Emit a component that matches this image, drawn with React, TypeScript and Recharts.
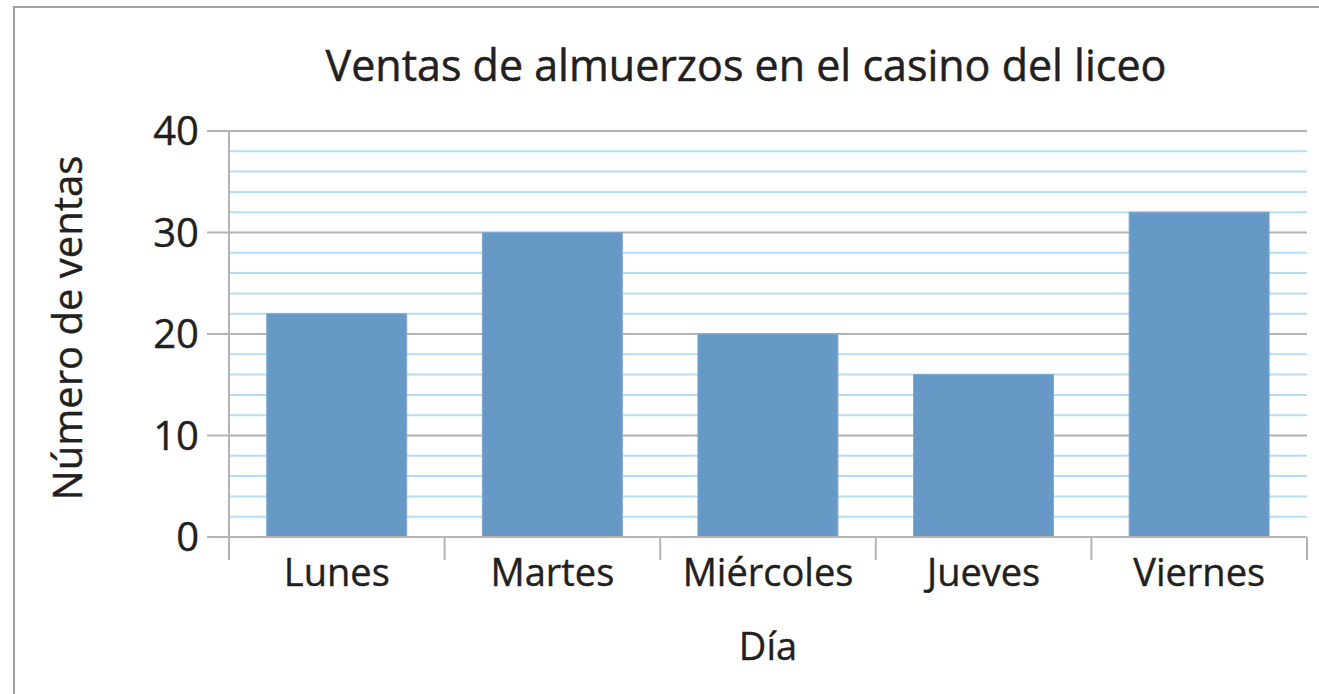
import { BarChart, Bar, XAxis, YAxis, CartesianGrid } from "recharts";

// Ventas por día
const dias = ["Lunes", "Martes", "Miércoles", "Jueves", "Viernes"];
const ventas = [22, 30, 20, 16, 32];
const yTicks = [0, 10, 20, 30, 40];
// líneas celestes cada 2 ventas (en dos grupos para que no se descarten)
const yMinorA = [2, 6, 12, 16, 22, 26, 32, 36];
const yMinorB = [4, 8, 14, 18, 24, 28, 34, 38];

const titulo = "Ventas de almuerzos en el casino del liceo";
const ejeY = "Número de ventas";
const ejeX = "Día";

const FONT = "'Open Sans', 'Noto Sans', sans-serif";
const TEXT = "#231f20";
const GRAY = "#b4b4b4";
const BLUE_LINE = "#b3def3";
const BAR = "#6799c7";

const TICK_MARGIN = 22;
const EDGE_TICK = 23;

const data = dias.map((dia, i) => ({ dia, ventas: ventas[i] }));

// etiqueta del día + marcas en los bordes de cada categoría
const DayTick = (props: any) => {
  const { x, y, payload, index, visibleTicksCount } = props;
  const half = payload?.offset ?? 0;
  const top = y - TICK_MARGIN;
  const last = index === visibleTicksCount - 1;
  return (
    <g>
      <line x1={x - half} x2={x - half} y1={top} y2={top + EDGE_TICK} stroke={GRAY} strokeWidth={2} />
      {last && (
        <line x1={x + half} x2={x + half} y1={top} y2={top + EDGE_TICK} stroke={GRAY} strokeWidth={2} />
      )}
      <text
        x={x}
        y={y}
        dy="0.71em"
        textAnchor="middle"
        fill={TEXT}
        stroke={TEXT}
        strokeWidth={0.4}
        fontSize={38}
        fontFamily={FONT}
      >
        {payload.value}
      </text>
    </g>
  );
};

export default function App() {
  return (
    <div
      style={{
        position: "fixed",
        left: 0,
        top: 0,
        width: 1319,
        height: 694,
        background: "#fff",
        fontFamily: FONT,
        overflow: "hidden",
      }}
    >
      {/* marco */}
      <div
        style={{
          position: "absolute",
          left: 13,
          top: 6,
          width: 1400,
          height: 800,
          borderLeft: "2px solid #a0a0a0",
          borderTop: "2px solid #a0a0a0",
        }}
      />
      <div
        style={{
          position: "absolute",
          left: 0,
          top: 35,
          width: 1492,
          textAlign: "center",
          fontSize: 43,
          color: TEXT,
          lineHeight: "60px",
          WebkitTextStroke: "0.5px " + TEXT,
        }}
      >
        {titulo}
      </div>

      <BarChart
        width={1319}
        height={694}
        data={data}
        margin={{ top: 131, right: 12, left: 0, bottom: 0 }}
        barCategoryGap="17.5%"
        style={{ position: "absolute", left: 0, top: 0 }}
      >
        <CartesianGrid
          yAxisId="main"
          vertical={false}
          horizontalValues={yMinorA}
          stroke={BLUE_LINE}
          strokeWidth={2}
        />
        <CartesianGrid
          yAxisId="main"
          vertical={false}
          horizontalValues={yMinorB}
          stroke={BLUE_LINE}
          strokeWidth={2}
        />
        <CartesianGrid yAxisId="main" vertical={false} stroke={GRAY} strokeWidth={2} />
        <XAxis
          dataKey="dia"
          height={157}
          tickLine={false}
          tickSize={0}
          tickMargin={TICK_MARGIN}
          axisLine={{ stroke: GRAY, strokeWidth: 2 }}
          tick={DayTick}
          label={{
            value: ejeX,
            position: "insideBottom",
            offset: 34,
            fill: TEXT,
            stroke: TEXT,
            strokeWidth: 0.4,
            fontSize: 38,
            fontFamily: FONT,
          }}
        />
        <YAxis
          yAxisId="main"
          domain={[0, 40]}
          ticks={yTicks}
          width={229}
          tickSize={22}
          tickMargin={8}
          axisLine={{ stroke: GRAY, strokeWidth: 2 }}
          tickLine={{ stroke: GRAY, strokeWidth: 2 }}
          tick={{ fill: TEXT, stroke: TEXT, strokeWidth: 0.4, fontSize: 40, fontFamily: FONT }}
          label={{
            value: ejeY,
            angle: -90,
            position: "insideLeft",
            offset: 68,
            dy: -6,
            fill: TEXT,
            stroke: TEXT,
            strokeWidth: 0.4,
            fontSize: 40,
            fontFamily: FONT,
            style: { textAnchor: "middle" },
          }}
        />
        <YAxis
          yAxisId="right"
          orientation="right"
          domain={[0, 40]}
          width={0}
          tick={false}
          tickLine={false}
          axisLine={{ stroke: GRAY, strokeWidth: 2 }}
        />
        <Bar
          yAxisId="main"
          dataKey="ventas"
          fill={BAR}
          stroke="#7fa9d2"
          strokeWidth={1}
          isAnimationActive={false}
        />
      </BarChart>
    </div>
  );
}
